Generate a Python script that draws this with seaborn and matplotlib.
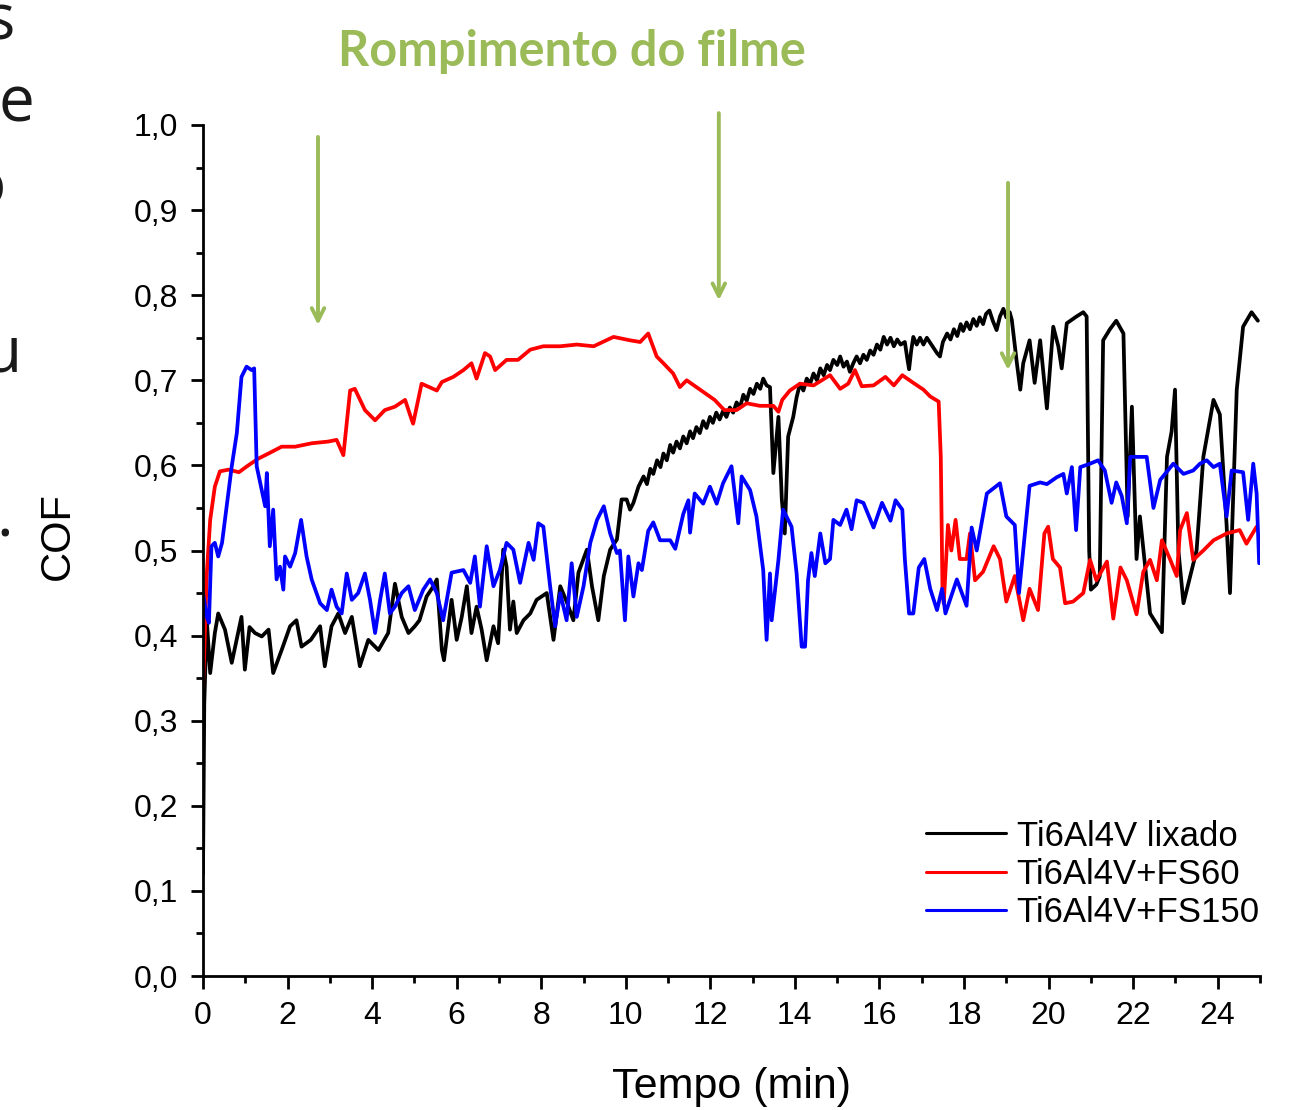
import matplotlib
matplotlib.use("Agg")
import matplotlib.pyplot as plt
import seaborn as sns
import pandas as pd
from matplotlib.ticker import MultipleLocator

# ---------------- data ----------------
series_names = ["Ti6Al4V lixado", "Ti6Al4V+FS60", "Ti6Al4V+FS150"]
series_colors = ["#000000", "#ff0000", "#0000ff"]

black_t = [0.00, 0.03, 0.09, 0.17, 0.28, 0.36, 0.52, 0.68, 0.91, 0.99, 1.10, 1.23, 1.39, 1.55, 1.66,
           1.86, 2.06, 2.21, 2.33, 2.55, 2.77, 2.88, 3.04, 3.20, 3.36, 3.52, 3.71, 3.91, 4.15, 4.38,
           4.54, 4.70, 4.86, 5.01, 5.12, 5.29, 5.45, 5.53, 5.65, 5.70, 5.88, 6.00, 6.12, 6.24, 6.35,
           6.47, 6.59, 6.71, 6.87, 6.98, 7.10, 7.18, 7.26, 7.34, 7.42, 7.58, 7.74, 7.89, 8.13, 8.29,
           8.45, 8.60, 8.76, 8.88, 9.08, 9.20, 9.35, 9.48, 9.63, 9.79, 9.90,
           10.02, 10.10, 10.18, 10.30, 10.42, 10.50, 10.58, 10.65, 10.74, 10.82, 10.89, 10.97, 11.05,
           11.12, 11.20, 11.28, 11.36, 11.44, 11.52, 11.59, 11.67, 11.75, 11.83, 11.91, 11.99, 12.06,
           12.14, 12.22, 12.30, 12.38, 12.46, 12.54, 12.62, 12.70, 12.78, 12.86, 12.94, 13.02, 13.10,
           13.18, 13.25, 13.33, 13.41, 13.49, 13.61, 13.69, 13.76, 13.84, 13.96, 14.04,
           14.12, 14.20, 14.28, 14.36, 14.44, 14.52, 14.60, 14.68, 14.76, 14.83, 14.91, 15.00, 15.07,
           15.15, 15.23, 15.30, 15.38, 15.46, 15.54, 15.62, 15.70, 15.78, 15.86, 15.94, 16.02, 16.10,
           16.18, 16.26, 16.34, 16.42, 16.50, 16.60, 16.66, 16.70, 16.75, 16.80, 16.88, 16.96, 17.04,
           17.12, 17.20, 17.28, 17.36, 17.43, 17.50, 17.60, 17.68, 17.76, 17.84, 17.92, 17.98, 18.06,
           18.14, 18.22, 18.30, 18.37, 18.45, 18.52, 18.60, 18.68, 18.77, 18.85, 18.93, 19.00, 19.08,
           19.13, 19.25, 19.33, 19.40, 19.55, 19.67, 19.80, 19.96, 20.11, 20.23, 20.31, 20.43, 20.66,
           20.82, 20.90, 20.96, 21.00, 21.13, 21.21, 21.29, 21.45, 21.60, 21.77, 21.87, 21.97, 22.08,
           22.16, 22.40, 22.68, 22.80, 22.91, 22.99, 23.07, 23.19, 23.50, 23.66, 23.90, 24.05, 24.21,
           24.29, 24.45, 24.60, 24.80, 24.95]
black_v = [0.12, 0.32, 0.418, 0.356, 0.403, 0.426, 0.407, 0.368, 0.422, 0.36, 0.41, 0.403, 0.399, 0.407, 0.356,
           0.383, 0.411, 0.418, 0.387, 0.395, 0.411, 0.364, 0.411, 0.426, 0.403, 0.422, 0.364, 0.395, 0.383, 0.403,
           0.461, 0.422, 0.403, 0.411, 0.418, 0.446, 0.458, 0.466, 0.383, 0.371, 0.442, 0.395, 0.422, 0.458, 0.403,
           0.434, 0.407, 0.371, 0.411, 0.391, 0.501, 0.481, 0.407, 0.44, 0.403, 0.418, 0.426, 0.442, 0.45, 0.395,
           0.458, 0.44, 0.418, 0.474, 0.501, 0.458, 0.418, 0.47, 0.501, 0.513, 0.56,
           0.56, 0.548, 0.556, 0.575, 0.587, 0.578, 0.596, 0.59, 0.606, 0.598, 0.614, 0.606, 0.624,
           0.615, 0.628, 0.62, 0.634, 0.626, 0.64, 0.632, 0.645, 0.638, 0.652, 0.644, 0.657, 0.65,
           0.662, 0.654, 0.664, 0.657, 0.668, 0.662, 0.674, 0.668, 0.683, 0.676, 0.69, 0.684, 0.696,
           0.69, 0.702, 0.694, 0.692, 0.591, 0.657, 0.56, 0.52, 0.634, 0.657, 0.68,
           0.696, 0.688, 0.702, 0.696, 0.708, 0.70, 0.714, 0.706, 0.718, 0.712, 0.724, 0.718, 0.728,
           0.716, 0.722, 0.71, 0.72, 0.728, 0.72, 0.73, 0.724, 0.735, 0.73, 0.742, 0.736, 0.751,
           0.742, 0.75, 0.74, 0.748, 0.742, 0.745, 0.725, 0.713, 0.735, 0.751, 0.742, 0.75, 0.742,
           0.75, 0.744, 0.738, 0.732, 0.728, 0.745, 0.755, 0.748, 0.76, 0.752, 0.766, 0.758, 0.768,
           0.76, 0.772, 0.764, 0.774, 0.766, 0.778, 0.782, 0.77, 0.759, 0.775, 0.784, 0.774, 0.78,
           0.771, 0.72, 0.689, 0.72, 0.747, 0.697, 0.747, 0.667, 0.763, 0.74, 0.714, 0.767, 0.775,
           0.78, 0.775, 0.50, 0.454, 0.46, 0.47, 0.747, 0.76, 0.77, 0.755, 0.54, 0.669, 0.49,
           0.54, 0.426, 0.404, 0.61, 0.64, 0.689, 0.50, 0.438, 0.50, 0.61, 0.677, 0.66, 0.53,
           0.45, 0.689, 0.763, 0.78, 0.77]

red_t = [0.00, 0.03, 0.09, 0.17, 0.28, 0.40, 0.60, 0.85, 1.07, 1.31, 1.55, 1.86, 2.18, 2.57, 2.96,
         3.16, 3.32, 3.48, 3.59, 3.83, 4.07, 4.30, 4.54, 4.78, 4.94, 4.97, 5.17, 5.35, 5.53, 5.65,
         5.92, 6.16, 6.35, 6.47, 6.67, 6.79, 6.91, 7.18, 7.45, 7.74, 8.05, 8.45, 8.84, 9.24, 9.71,
         10.10, 10.34, 10.53, 10.73, 10.89, 11.12, 11.28, 11.44, 11.67, 12.10, 12.33, 12.62, 12.86,
         13.17, 13.49, 13.61, 13.70, 13.88, 14.12, 14.44, 14.83, 15.07, 15.26, 15.42, 15.58, 15.86,
         16.14, 16.34, 16.54, 16.80, 17.04, 17.20, 17.40, 17.45, 17.49, 17.52, 17.62, 17.70, 17.80,
         17.90, 18.06, 18.14, 18.26, 18.45, 18.70, 18.85, 19.00, 19.20, 19.40, 19.55, 19.75, 19.90,
         19.99, 20.10, 20.27, 20.39, 20.58, 20.82, 20.98, 21.13, 21.38, 21.53, 21.70, 21.85, 22.08,
         22.24, 22.40, 22.56, 22.68, 22.87, 23.03, 23.11, 23.27, 23.42, 23.66, 23.90, 24.21, 24.52,
         24.68, 24.92]
red_v = [0.34, 0.38, 0.473, 0.536, 0.575, 0.593, 0.595, 0.592, 0.60, 0.608, 0.614, 0.622, 0.622, 0.626, 0.628,
         0.63, 0.612, 0.688, 0.69, 0.665, 0.653, 0.665, 0.669, 0.677, 0.653, 0.649, 0.696, 0.692, 0.688, 0.698,
         0.704, 0.712, 0.72, 0.702, 0.732, 0.728, 0.712, 0.724, 0.724, 0.736, 0.74, 0.74, 0.742, 0.74, 0.751,
         0.747, 0.745, 0.755, 0.728, 0.72, 0.708, 0.692, 0.70, 0.692, 0.677, 0.665, 0.665, 0.673,
         0.67, 0.67, 0.663, 0.677, 0.688, 0.696, 0.694, 0.706, 0.69, 0.696, 0.712, 0.693, 0.694,
         0.704, 0.694, 0.706, 0.697, 0.689, 0.681, 0.675, 0.61, 0.454, 0.438, 0.53, 0.50, 0.536,
         0.49, 0.49, 0.52, 0.465, 0.475, 0.505, 0.49, 0.44, 0.47, 0.418, 0.455, 0.43, 0.52,
         0.528, 0.49, 0.48, 0.438, 0.44, 0.45, 0.489, 0.465, 0.487, 0.42, 0.48, 0.465, 0.425,
         0.475, 0.489, 0.465, 0.512, 0.49, 0.47, 0.524, 0.544, 0.489, 0.50, 0.512, 0.52, 0.524,
         0.508, 0.528]

blue_t = [0.00, 0.09, 0.14, 0.20, 0.28, 0.36, 0.45, 0.56, 0.68, 0.80, 0.91, 1.03, 1.15, 1.21, 1.27,
          1.39, 1.47, 1.51, 1.58, 1.66, 1.74, 1.82, 1.90, 1.94, 2.06, 2.18, 2.32, 2.45, 2.57, 2.77,
          2.93, 3.04, 3.16, 3.28, 3.40, 3.52, 3.67, 3.83, 3.95, 4.07, 4.19, 4.30, 4.42, 4.54, 4.70,
          4.86, 5.01, 5.21, 5.37, 5.53, 5.68, 5.88, 6.16, 6.32, 6.43, 6.55, 6.71, 6.87, 7.02, 7.18,
          7.34, 7.50, 7.70, 7.82, 7.93, 8.05, 8.21, 8.33, 8.45, 8.60, 8.72, 8.84, 9.00, 9.16, 9.32,
          9.48, 9.63, 9.79, 9.86, 9.98, 10.06, 10.18, 10.30, 10.38, 10.53, 10.65, 10.81, 11.05, 11.17,
          11.36, 11.48, 11.52, 11.63, 11.83, 11.99, 12.15, 12.30, 12.50, 12.66, 12.74, 12.94, 13.09,
          13.25, 13.33, 13.41, 13.45, 13.61, 13.72, 13.92, 14.04, 14.16, 14.24, 14.31, 14.39, 14.47,
          14.60, 14.72, 14.83, 14.91, 15.07, 15.22, 15.34, 15.46, 15.62, 15.86, 16.06, 16.26, 16.38,
          16.54, 16.60, 16.70, 16.80, 16.93, 17.06, 17.20, 17.36, 17.48, 17.56, 17.83, 18.06, 18.18,
          18.30, 18.54, 18.85, 19.00, 19.20, 19.30, 19.55, 19.80, 19.96, 20.19, 20.35, 20.43, 20.55,
          20.65, 20.75, 20.98, 21.17, 21.33, 21.49, 21.60, 21.73, 21.85, 21.93, 22.32, 22.48, 22.64,
          22.95, 23.19, 23.42, 23.58, 23.74, 23.90, 24.05, 24.21, 24.33, 24.60, 24.72, 24.84, 24.92,
          24.98]
blue_v = [0.45, 0.422, 0.415, 0.505, 0.509, 0.493, 0.509, 0.552, 0.599, 0.638, 0.704, 0.716, 0.712, 0.714, 0.599,
          0.571, 0.552, 0.591, 0.505, 0.548, 0.466, 0.481, 0.454, 0.493, 0.481, 0.497, 0.536, 0.493, 0.466, 0.438,
          0.43, 0.454, 0.434, 0.426, 0.473, 0.442, 0.45, 0.473, 0.442, 0.403, 0.442, 0.473, 0.426, 0.434, 0.45,
          0.458, 0.43, 0.454, 0.466, 0.45, 0.418, 0.474, 0.477, 0.462, 0.493, 0.434, 0.505, 0.458, 0.477, 0.509,
          0.501, 0.462, 0.509, 0.489, 0.532, 0.528, 0.458, 0.411, 0.45, 0.418, 0.485, 0.422, 0.458, 0.509, 0.536,
          0.552, 0.52, 0.497, 0.50, 0.418, 0.493, 0.446, 0.485, 0.477, 0.523, 0.533, 0.512, 0.512, 0.502,
          0.543, 0.559, 0.521, 0.567, 0.555, 0.575, 0.555, 0.579, 0.599, 0.532, 0.587, 0.571, 0.540,
          0.477, 0.395, 0.473, 0.418, 0.489, 0.548, 0.528, 0.473, 0.387, 0.387, 0.465, 0.497, 0.47,
          0.52, 0.485, 0.49, 0.536, 0.53, 0.548, 0.525, 0.559, 0.556, 0.527, 0.556, 0.535, 0.559,
          0.548, 0.49, 0.426, 0.426, 0.48, 0.49, 0.455, 0.43, 0.455, 0.426, 0.466, 0.435, 0.527,
          0.50, 0.567, 0.579, 0.54, 0.53, 0.45, 0.576, 0.58, 0.578, 0.586, 0.59, 0.567, 0.598,
          0.524, 0.598, 0.602, 0.606, 0.594, 0.556, 0.58, 0.564, 0.532, 0.61, 0.61, 0.55, 0.583,
          0.602, 0.59, 0.594, 0.602, 0.606, 0.598, 0.602, 0.54, 0.594, 0.592, 0.536, 0.602, 0.567,
          0.485]

x_ticks = [0, 2, 4, 6, 8, 10, 12, 14, 16, 18, 20, 22, 24]
y_ticks = [0.0, 0.1, 0.2, 0.3, 0.4, 0.5, 0.6, 0.7, 0.8, 0.9, 1.0]
y_tick_labels = ["0,0", "0,1", "0,2", "0,3", "0,4", "0,5", "0,6", "0,7", "0,8", "0,9", "1,0"]

arrow_t = [2.72, 12.2, 19.04]
arrow_top = [0.986, 1.014, 0.932]
arrow_tip = [0.765, 0.794, 0.712]
annotation_text = "Rompimento do filme"
green = "#9bbb59"

# ---------------- figure ----------------
sns.set_style("ticks")
plt.rcParams["font.family"] = ["Liberation Sans", "DejaVu Sans"]
plt.rcParams["text.color"] = "black"
plt.rcParams["axes.labelcolor"] = "black"
plt.rcParams["xtick.color"] = "black"
plt.rcParams["ytick.color"] = "black"

W, H = 1302, 1110
fig = plt.figure(figsize=(W / 100, H / 100), dpi=100)
ax = fig.add_axes([203 / W, 1 - 976 / H, (1260 - 203) / W, (976 - 125) / H])

frames = []
for name, t, v in zip(series_names, [black_t, red_t, blue_t], [black_v, red_v, blue_v]):
    frames.append(pd.DataFrame({"t": t, "cof": v, "serie": name}))
df = pd.concat(frames, ignore_index=True)

sns.lineplot(data=df, x="t", y="cof", hue="serie", hue_order=series_names,
             palette=dict(zip(series_names, series_colors)), estimator=None, sort=False,
             linewidth=2.7, ax=ax)

ax.set_xlim(0, 25)
ax.set_ylim(0, 1.0)
ax.set_xticks(x_ticks)
ax.set_xticklabels([str(x) for x in x_ticks])
ax.set_yticks(y_ticks)
ax.set_yticklabels(y_tick_labels)
ax.xaxis.set_minor_locator(MultipleLocator(1))
ax.yaxis.set_minor_locator(MultipleLocator(0.05))
ax.tick_params(which="major", direction="out", length=9, width=2, labelsize=23, pad=9, colors="black")
ax.tick_params(which="minor", direction="out", length=5, width=2, colors="black")
for s in ["top", "right"]:
    ax.spines[s].set_visible(False)
for s in ["left", "bottom"]:
    ax.spines[s].set_linewidth(2)
    ax.spines[s].set_color("black")

ax.set_xlabel("Tempo (min)", fontsize=31, color="black")
ax.xaxis.set_label_coords((731 - 203) / 1057, -(1067 - 976) / 851)
ax.set_ylabel("COF", fontsize=30, color="black")
ax.yaxis.set_label_coords((78 - 203) / 1057, (976 - 536) / 851)

handles, labels = ax.get_legend_handles_labels()
for h in handles:
    h.set_linewidth(2.2)
leg = ax.legend(handles, labels, loc="lower right", bbox_to_anchor=(1.013, 0.039), frameon=False,
                fontsize=25, handlelength=2.3, handletextpad=0.3, labelspacing=0.15, borderaxespad=0)
for txt in leg.get_texts():
    txt.set_color("black")

for t, top, tip in zip(arrow_t, arrow_top, arrow_tip):
    ax.annotate("", xy=(t, tip), xytext=(t, top), annotation_clip=False,
                arrowprops=dict(arrowstyle="->,head_length=0.9,head_width=0.45", color=green, lw=2.8,
                                shrinkA=0, shrinkB=0))

fig.text(572 / W, 1 - 52 / H, annotation_text, color=green, fontsize=35, fontweight="bold",
         family=["Lato", "DejaVu Sans"], ha="center", va="center")

# fragments of the slide text cut by the left edge
frag_kw = dict(color="#1a1a1a", fontsize=46, family=["Open Sans", "DejaVu Sans"], ha="right", va="baseline")
fig.text(15 / W, 1 - 40 / H, "s", **frag_kw)
fig.text(34 / W, 1 - 122 / H, "e", **frag_kw)
fig.text(6 / W, 1 - 205 / H, "o", **frag_kw)
fig.text(22 / W, 1 - 372 / H, "u", **frag_kw)
fig.text(13 / W, 1 - 537 / H, ".", **frag_kw)

fig.savefig("out.png", dpi=100, facecolor="white")
